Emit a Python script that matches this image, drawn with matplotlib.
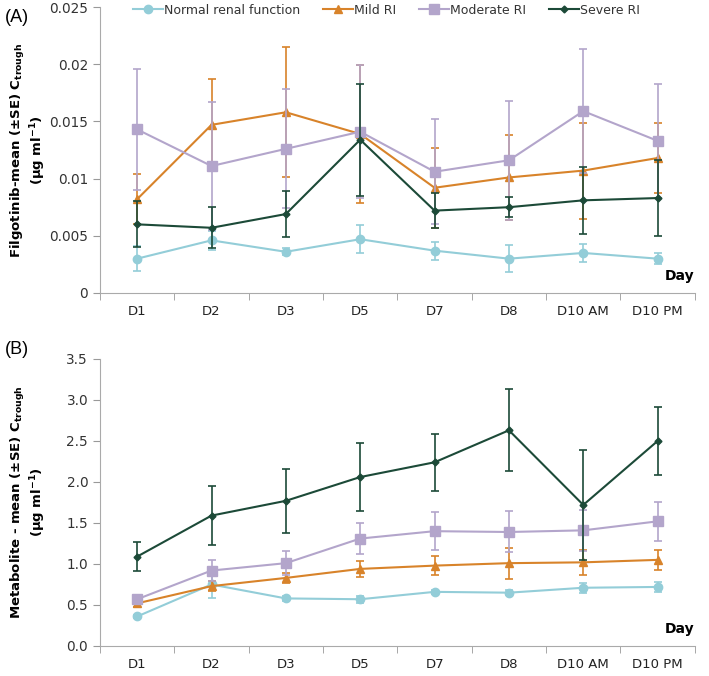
import matplotlib
matplotlib.use('Agg')
import matplotlib.pyplot as plt
import numpy as np

# Categories
days = ['D1', 'D2', 'D3', 'D5', 'D7', 'D8', 'D10 AM', 'D10 PM']
groups = ['Normal renal function', 'Mild RI', 'Moderate RI', 'Severe RI']

# Panel A: filgotinib mean and SE
fil_normal = [0.0030, 0.0046, 0.0036, 0.0047, 0.0037, 0.0030, 0.0035, 0.0030]
fil_normal_se = [0.0011, 0.0008, 0.0003, 0.0012, 0.0008, 0.0012, 0.0008, 0.0005]
fil_mild = [0.0082, 0.0147, 0.0158, 0.0139, 0.0092, 0.0101, 0.0107, 0.0118]
fil_mild_se = [0.0022, 0.0040, 0.0057, 0.0060, 0.0035, 0.0037, 0.0042, 0.0031]
fil_moderate = [0.0143, 0.0111, 0.0126, 0.0141, 0.0106, 0.0116, 0.0159, 0.0133]
fil_moderate_se = [0.0053, 0.0056, 0.0052, 0.0058, 0.0046, 0.0052, 0.0054, 0.0050]
fil_severe = [0.0060, 0.0057, 0.0069, 0.0134, 0.0072, 0.0075, 0.0081, 0.0083]
fil_severe_se = [0.0020, 0.0018, 0.0020, 0.0049, 0.0015, 0.0009, 0.0029, 0.0033]

# Panel B: metabolite mean and SE
met_normal = [0.36, 0.75, 0.58, 0.57, 0.66, 0.65, 0.71, 0.72]
met_normal_se = [0.02, 0.17, 0.03, 0.04, 0.02, 0.03, 0.06, 0.06]
met_mild = [0.52, 0.73, 0.83, 0.94, 0.98, 1.01, 1.02, 1.05]
met_mild_se = [0.05, 0.06, 0.06, 0.10, 0.12, 0.19, 0.15, 0.12]
met_moderate = [0.57, 0.92, 1.01, 1.31, 1.40, 1.39, 1.41, 1.52]
met_moderate_se = [0.03, 0.13, 0.15, 0.19, 0.23, 0.25, 0.25, 0.24]
met_severe = [1.09, 1.59, 1.77, 2.06, 2.24, 2.63, 1.72, 2.50]
met_severe_se = [0.18, 0.36, 0.39, 0.41, 0.35, 0.50, 0.67, 0.41]

colors = ['#93cdd8', '#d8832a', '#b3a5cb', '#1c4a38']
markers = ['o', '^', 's', 'D']
msizes = [6, 6, 6.5, 3.5]

fig = plt.figure(figsize=(7.09, 6.76), dpi=100)
axA = fig.add_axes([0.141, 0.5666, 0.839, 0.423])
axB = fig.add_axes([0.141, 0.0444, 0.839, 0.4246])

x = np.arange(len(days))


def draw(ax, series, ses, ymax, ystep, fmt, ylabel):
    lines = []
    for i in range(4):
        eb = ax.errorbar(x, series[i], yerr=ses[i], color=colors[i], marker=markers[i],
                         markersize=msizes[i], linewidth=1.5, elinewidth=1.2,
                         capsize=3, capthick=1.2, zorder=3 + i)
        lines.append(eb.lines[0])
    ax.set_xlim(-0.5, len(days) - 0.5)
    ax.set_ylim(0, ymax)
    ticks = np.arange(0, ymax + ystep / 2, ystep)
    ax.set_yticks(ticks)
    ax.set_yticklabels([fmt(v) for v in ticks])
    ax.set_xticks(x)
    ax.set_xticklabels(days)
    ax.set_xticks(np.arange(-0.5, len(days)), minor=True)
    ax.tick_params(axis='x', which='major', length=0, pad=9, labelsize=9.5, colors='#222222')
    ax.tick_params(axis='x', which='minor', length=5, color='#999999')
    ax.tick_params(axis='y', length=5, color='#999999', labelsize=9.8, colors='#333333')
    for side in ['top', 'right']:
        ax.spines[side].set_visible(False)
    for side in ['left', 'bottom']:
        ax.spines[side].set_color('#aaaaaa')
    ax.set_ylabel(ylabel, fontsize=9.5, fontweight='bold', linespacing=1.1)
    ax.yaxis.set_label_coords(-0.088, 0.5)
    ax.text(1.0, 0.035, 'Day', transform=ax.transAxes, ha='right', va='bottom',
            fontsize=10, fontweight='bold')
    return lines


def fmt_a(v):
    return '0' if v == 0 else ('%g' % round(v, 3))


def fmt_b(v):
    return '%.1f' % v


lines = draw(axA, [fil_normal, fil_mild, fil_moderate, fil_severe],
             [fil_normal_se, fil_mild_se, fil_moderate_se, fil_severe_se],
             0.025, 0.005, fmt_a,
             'Filgotinib-mean (±SE) C$_{\\mathbf{trough}}$\n(µg ml$^{\\mathbf{-1}}$)')
draw(axB, [met_normal, met_mild, met_moderate, met_severe],
     [met_normal_se, met_mild_se, met_moderate_se, met_severe_se],
     3.5, 0.5, fmt_b,
     'Metabolite - mean (±SE) C$_{\\mathbf{trough}}$\n(µg ml$^{\\mathbf{-1}}$)')

fig.legend(lines, groups, loc='center', bbox_to_anchor=(0.545, 1 - 10 / 676), ncol=4,
           frameon=False, fontsize=9, handlelength=2.4, columnspacing=1.8,
           handletextpad=0.1, borderaxespad=0, labelcolor='#333333')

fig.text(5 / 709, 1 - 17 / 676, '(A)', fontsize=13, family='Liberation Sans', va='center')
fig.text(5 / 709, 1 - 350 / 676, '(B)', fontsize=13, family='Liberation Sans', va='center')

fig.savefig('out.png', dpi=100)
